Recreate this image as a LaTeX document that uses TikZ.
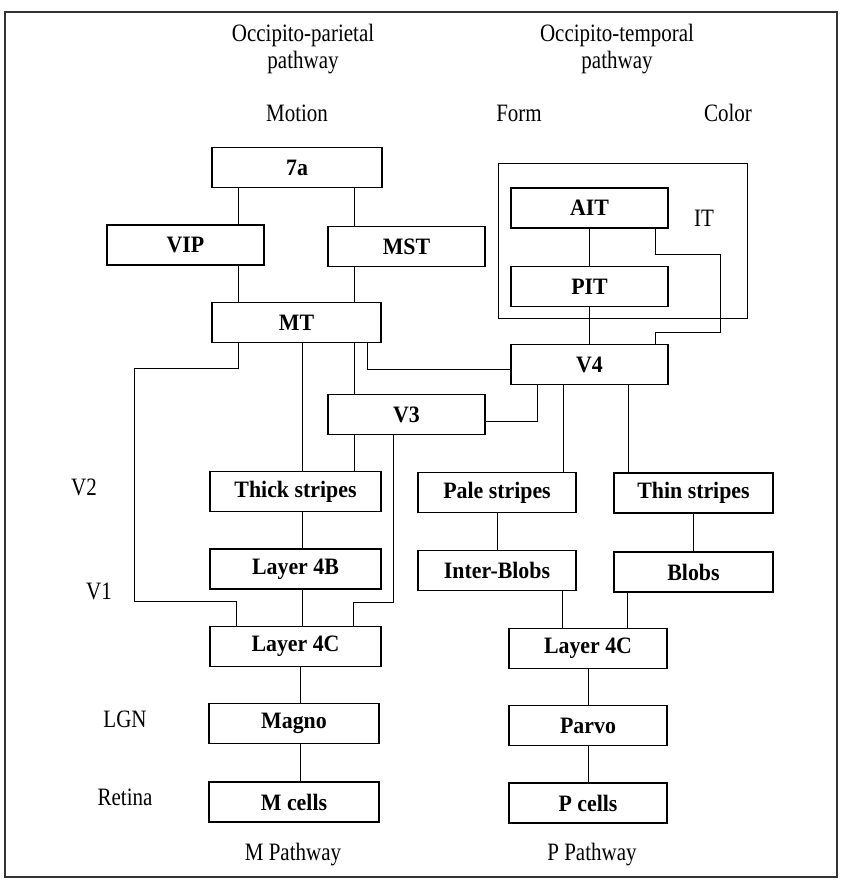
\documentclass[tikz,border=0pt]{standalone}
\usepackage{fontspec}
\setmainfont{Liberation Serif}
\newfontfamily\lblfont[FakeStretch=0.84]{Liberation Serif}
\newfontfamily\areafont[FakeStretch=0.93]{Liberation Serif}
\usepackage{tikz}

\begin{document}
\begin{tikzpicture}[x=1pt, y=-1pt,
  area/.style={draw, line width=1.6pt, font=\areafont\fontsize{23.5}{26}\selectfont\bfseries, minimum height=40, inner sep=0pt},
  lbl/.style={font=\lblfont\fontsize{25}{27}\selectfont, align=center, inner sep=0pt},
  link/.style={line width=0.9pt}]
  \useasboundingbox (0,0) rectangle (840,882);
  \draw[line width=1.4pt, black!80] (5,12) rectangle (837,877);

  \node[lbl] (occpar) at (303,49.5) {Occipito-parietal\\pathway};
  \node[lbl] (occtem) at (617,49.5) {Occipito-temporal\\pathway};
  \node[lbl] (motion) at (297,113) {Motion};
  \node[lbl] (form) at (519,113) {Form};
  \node[lbl] (color) at (728,113) {Color};
  \node[lbl] (v2lbl) at (84,487) {V2};
  \node[lbl] (v1lbl) at (99,591) {V1};
  \node[lbl] (lgnlbl) at (125,719) {LGN};
  \node[lbl] (retlbl) at (125,797) {Retina};
  \node[lbl] (itlbl) at (704,218) {IT};
  \node[lbl] (mpath) at (293,855) {M Pathway};
  \node[lbl] (ppath) at (592,855) {P Pathway};

  \draw[line width=0.9pt] (498,163) rectangle (747,318);

  \node[area, minimum width=170] (area7a) at (297,167.5) {7a};
  \node[area, minimum width=157] (VIP) at (185.5,245) {VIP};
  \node[area, minimum width=157] (MST) at (406.5,246.5) {MST};
  \node[area, minimum width=169] (MT) at (296.5,322.5) {MT};
  \node[area, minimum width=157] (V3) at (406.5,414.5) {V3};
  \node[area, minimum width=157] (AIT) at (589.5,208) {AIT};
  \node[area, minimum width=157] (PIT) at (589.5,286.5) {PIT};
  \node[area, minimum width=157] (V4) at (589.5,364.5) {V4};
  \node[area, minimum width=171] (thick) at (295.5,491.5) {Thick stripes};
  \node[area, minimum width=171] (layerB) at (295.5,569) {Layer 4B};
  \node[area, minimum width=171] (layerCm) at (295.5,646.5) {Layer 4C};
  \node[area, minimum width=170] (magno) at (294,723.5) {Magno};
  \node[area, minimum width=170] (mcells) at (294,802) {M cells};
  \node[area, minimum width=158] (pale) at (497,492.5) {Pale stripes};
  \node[area, minimum width=158] (inter) at (497,570.5) {Inter-Blobs};
  \node[area, minimum width=159] (thin) at (693.5,493) {Thin stripes};
  \node[area, minimum width=159] (blobs) at (693.5,572) {Blobs};
  \node[area, minimum width=158] (layerCp) at (588,648.5) {Layer 4C};
  \node[area, minimum width=158] (parvo) at (588,725.5) {Parvo};
  \node[area, minimum width=158] (pcells) at (588,803) {P cells};

  \draw[link] (area7a.south -| 238,0) -- (VIP.north -| 238,0);
  \draw[link] (area7a.south -| 354,0) -- (MST.north -| 354,0);
  \draw[link] (VIP.south -| 238,0) -- (MT.north -| 238,0);
  \draw[link] (MST.south -| 354,0) -- (MT.north -| 354,0);
  \draw[link] (MT.south -| 238,0) -- (238,368) -- (134,368) -- (134,601) -- (236,601) -- (layerCm.north -| 236,0);
  \draw[link] (MT.south -| 302,0) -- (thick.north -| 302,0);
  \draw[link] (MT.south -| 354,0) -- (V3.north -| 354,0);
  \draw[link] (MT.south -| 367,0) -- (367,369) -- (V4.west |- 0,369);
  \draw[link] (V4.south -| 537,0) -- (537,421) -- (V3.east |- 0,421);
  \draw[link] (V4.south -| 563,0) -- (pale.north -| 563,0);
  \draw[link] (V4.south -| 628,0) -- (thin.north -| 628,0);
  \draw[link] (AIT) -- (PIT);
  \draw[link] (PIT) -- (V4);
  \draw[link] (AIT.south -| 655,0) -- (655,254) -- (720,254) -- (720,332) -- (655,332) -- (V4.north -| 655,0);
  \draw[link] (V3.south -| 354,0) -- (thick.north -| 354,0);
  \draw[link] (V3.south -| 393,0) -- (393,602) -- (353,602) -- (layerCm.north -| 353,0);
  \draw[link] (thick.south -| 302,0) -- (layerB.north -| 302,0);
  \draw[link] (layerB.south -| 302,0) -- (layerCm.north -| 302,0);
  \draw[link] (layerCm.south -| 300,0) -- (magno.north -| 300,0);
  \draw[link] (magno.south -| 300,0) -- (mcells.north -| 300,0);
  \draw[link] (pale) -- (inter);
  \draw[link] (thin) -- (blobs);
  \draw[link] (inter.south -| 562,0) -- (layerCp.north -| 562,0);
  \draw[link] (blobs.south -| 627,0) -- (layerCp.north -| 627,0);
  \draw[link] (layerCp) -- (parvo);
  \draw[link] (parvo) -- (pcells);
\end{tikzpicture}
\end{document}
